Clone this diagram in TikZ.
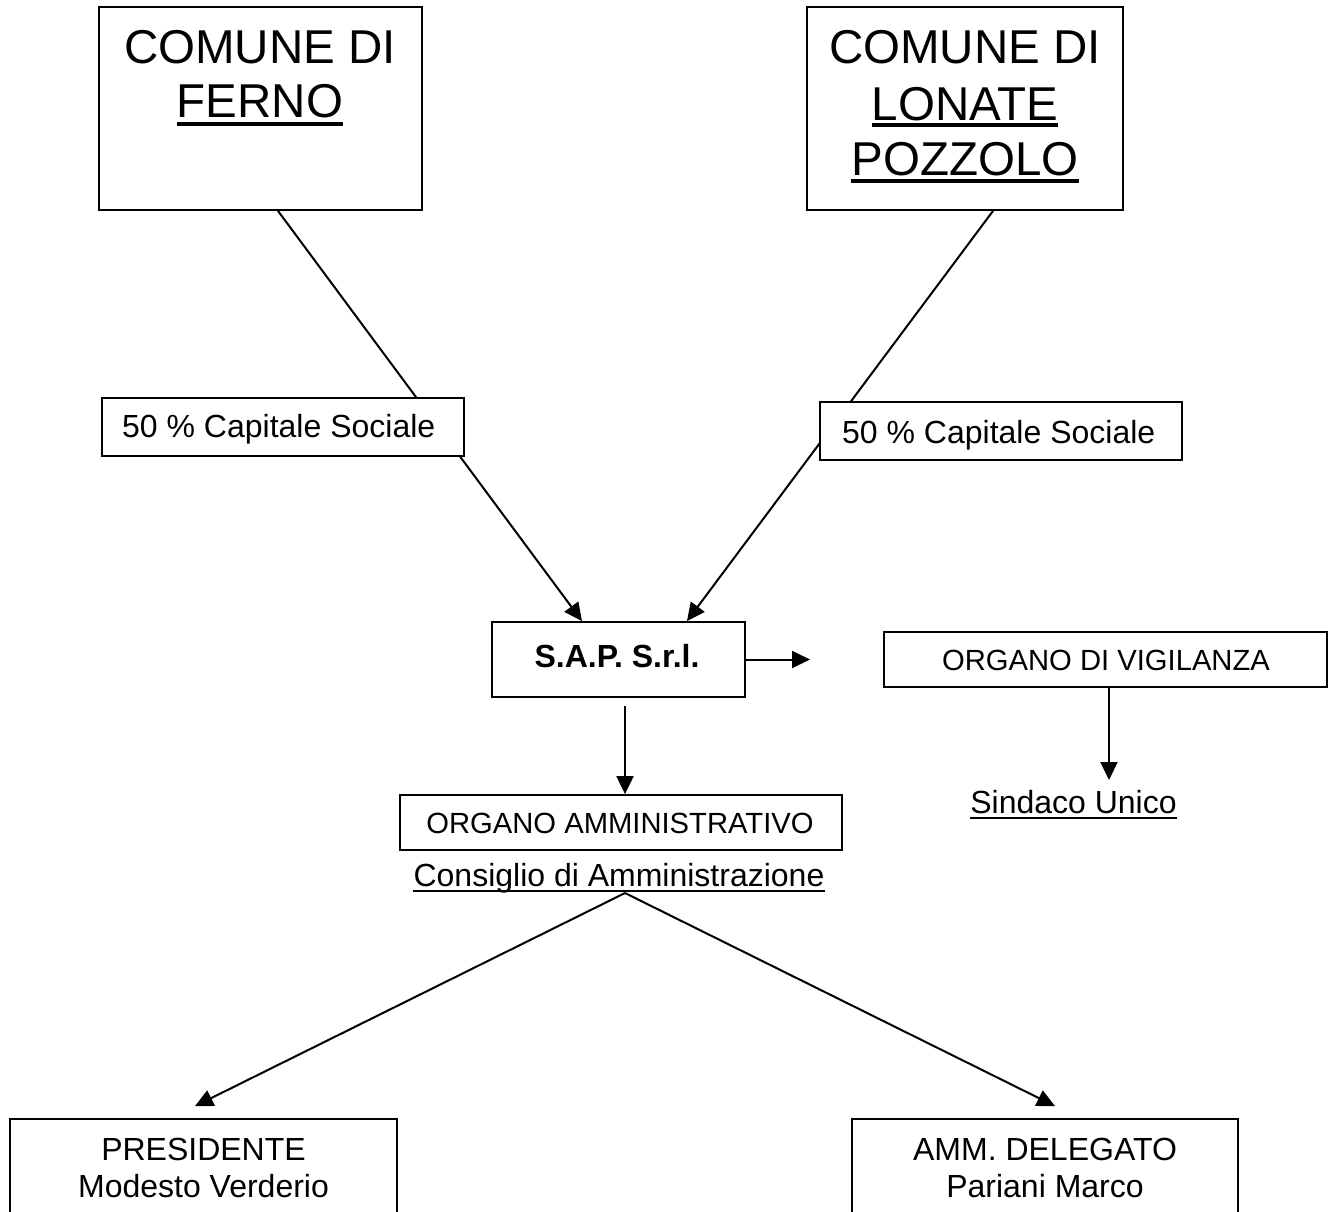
\documentclass[tikz,border=0pt]{standalone}
\usepackage{fontspec}
\setmainfont{Liberation Sans}
\usetikzlibrary{arrows.meta,backgrounds}
\begin{document}
\begin{tikzpicture}[x=1pt,y=-1pt,
  box/.style={draw, line width=1.8pt, fill=white, rectangle, inner sep=0pt},
  conn/.style={line width=2pt},
  arr/.style={conn, -{Triangle[length=18pt,width=17pt]}},
  txt/.style={inner sep=0pt, anchor=base},
  big/.style={font=\fontsize{47.5}{50}\selectfont},
  mid/.style={font=\fontsize{32}{36}\selectfont},
  org/.style={font=\fontsize{29.2}{33}\selectfont},
  ulbig/.style={line width=3.5pt},
  ul/.style={line width=2.2pt}
]
\clip (0,0) rectangle (1334,1211);

% boxes
\node[box, minimum width=323pt, minimum height=203pt] (ferno) at (260.5,108.5) {};
\node[box, minimum width=316pt, minimum height=203pt] (lonate) at (965,108.5) {};
\node[box, minimum width=362pt, minimum height=58pt] (l50) at (283,427) {};
\node[box, minimum width=362pt, minimum height=58pt] (r50) at (1001,431) {};
\node[box, minimum width=253pt, minimum height=75pt] (sap) at (618.5,659.5) {};
\node[box, minimum width=443pt, minimum height=55pt] (vig) at (1105.5,659.5) {};
\node[box, minimum width=442pt, minimum height=55pt] (amm) at (621,822.5) {};
\node[box, minimum width=387pt, minimum height=121pt] (pres) at (203.5,1179.5) {};
\node[box, minimum width=386pt, minimum height=121pt] (del) at (1045,1179.5) {};

% texts
\node[txt, big] (f1) at (260,63) {COMUNE DI};
\node[txt, big] (f2) at (260,117) {FERNO};
\draw[ulbig] ([yshift=-7pt]f2.base west) -- ([yshift=-7pt]f2.base east);

\node[txt, big] (lo1) at (965,63) {COMUNE DI};
\node[txt, big] (lo2) at (965,120) {LONATE};
\node[txt, big] (lo3) at (965,175) {POZZOLO};
\draw[ulbig] ([yshift=-5pt]lo2.base west) -- ([yshift=-5pt]lo2.base east);
\draw[ulbig] ([yshift=-6pt]lo3.base west) -- ([yshift=-6pt]lo3.base east);

\node[txt, mid, anchor=base west] (l50t) at (122,437) {50 \% Capitale Sociale};
\node[txt, mid, anchor=base west] (r50t) at (842,443) {50 \% Capitale Sociale};

\node[txt, font=\bfseries\fontsize{32}{36}\selectfont] (sapt) at (617,667) {S.A.P. S.r.l.};
\node[txt, org] (vigt) at (1106,670) {ORGANO DI VIGILANZA};
\node[txt, org] (ammt) at (620,833) {ORGANO AMMINISTRATIVO};

\node[txt, mid] (cons) at (619,886) {Consiglio di Amministrazione};
\draw[ul] ([yshift=-5pt]cons.base west) -- ([yshift=-5pt]cons.base east);
\node[txt, mid] (sind) at (1073.5,813) {Sindaco Unico};
\draw[ul] ([yshift=-5pt]sind.base west) -- ([yshift=-5pt]sind.base east);

\node[txt, mid] (p1) at (203.5,1160) {PRESIDENTE};
\node[txt, mid] (p2) at (203.5,1197) {Modesto Verderio};
\node[txt, mid] (d1) at (1045,1160) {AMM. DELEGATO};
\node[txt, mid] (d2) at (1045,1197) {Pariani Marco};

% free ends
\coordinate (saptip) at (810,659.5);
\coordinate (sindtip) at (1109,780);
\coordinate (apex) at (625,893);

% connectors
\begin{scope}[on background layer]
\draw[arr] ([xshift=17.5pt]ferno.south) -- ([xshift=-36.5pt]sap.north);
\draw[arr] ([xshift=28pt]lonate.south) -- ([xshift=68.5pt]sap.north);
\end{scope}
\draw[arr] (sap.east) -- (saptip);
\draw[arr] ([xshift=6.5pt,yshift=-8pt]sap.south) -- ([xshift=4pt]amm.north);
\draw[arr] ([xshift=3.5pt]vig.south) -- (sindtip);
\draw[arr] (apex) -- ([xshift=-8.5pt,yshift=12pt]pres.north);
\draw[arr] (apex) -- ([xshift=10pt,yshift=12pt]del.north);
\end{tikzpicture}
\end{document}
